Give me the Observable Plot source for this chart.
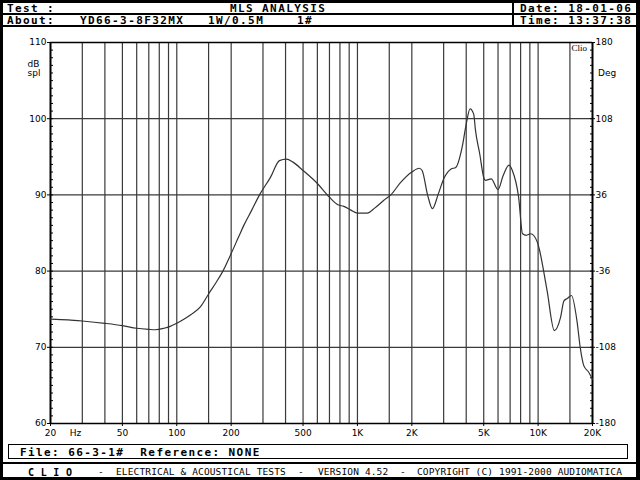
<!DOCTYPE html>
<html><head><meta charset="utf-8">
<script src="https://cdn.jsdelivr.net/npm/d3@7"></script>
<script src="https://cdn.jsdelivr.net/npm/@observablehq/plot@0.6"></script>
<style>
body{margin:0;background:#fff}
#page{position:relative;width:640px;height:480px;overflow:hidden;background:#fff}
.blk{position:absolute;background:#000}
.hd{position:absolute;font:bold 11px "DejaVu Sans Mono",monospace;letter-spacing:1.4px;color:#000;white-space:pre;line-height:11px}
.ft{position:absolute;font:9.5px "DejaVu Sans Mono",monospace;letter-spacing:0.14px;color:#000;white-space:pre;line-height:10px}
#chart{position:absolute;left:0;top:27px}
</style></head>
<body><div id="page">
<div class="blk" style="left:0;top:0;width:640px;height:3px"></div>
<div class="blk" style="left:0;top:13px;width:640px;height:2px"></div>
<div class="blk" style="left:0;top:25px;width:640px;height:2px"></div>
<div class="blk" style="left:512px;top:0;width:2px;height:27px"></div>
<div class="hd" style="left:7px;top:2.5px">Test :</div>
<div class="hd" style="left:230px;top:2.5px">MLS ANALYSIS</div>
<div class="hd" style="left:520px;top:2.5px">Date: 18-01-06</div>
<div class="hd" style="left:7px;top:14.5px">About:</div>
<div class="hd" style="left:80px;top:14.5px">YD66-3-8F32MX</div>
<div class="hd" style="left:208px;top:14.5px">1W/0.5M</div>
<div class="hd" style="left:297px;top:14.5px">1#</div>
<div class="hd" style="left:520px;top:14.5px">Time: 13:37:38</div>
<div id="chart"></div>
<div style="position:absolute;left:8px;top:444px;width:618px;height:13px;border:1px solid #000"></div>
<div class="hd" style="left:20px;top:446.5px">File: 66-3-1#  Reference: NONE</div>
<div class="blk" style="left:0;top:462px;width:640px;height:2px"></div>
<div class="hd" style="left:28px;top:466.5px;font-size:10px;letter-spacing:0.3px">C L I O</div>
<div class="ft" style="left:98px;top:467px">-</div>
<div class="ft" style="left:116px;top:467px">ELECTRICAL &amp; ACOUSTICAL TESTS</div>
<div class="ft" style="left:298px;top:467px">-</div>
<div class="ft" style="left:318px;top:467px">VERSION 4.52</div>
<div class="ft" style="left:400px;top:467px">-</div>
<div class="ft" style="left:417px;top:467px">COPYRIGHT (C) 1991-2000 AUDIOMATICA</div>
<div class="blk" style="left:0;top:477px;width:640px;height:3px"></div>
<div class="blk" style="left:0;top:0;width:3px;height:480px"></div>
<div class="blk" style="left:636px;top:0;width:4px;height:480px"></div>
</div>
<script>
const freqs = [20, 25, 30, 40, 50, 60, 70, 76, 85, 92, 100, 110, 120, 135, 150, 165, 180, 200, 220, 235, 260, 287, 330, 370, 404, 440, 500, 600, 700, 780, 840, 920, 1000, 1130, 1250, 1400, 1530, 1730, 2000, 2200, 2280, 2450, 2600, 2800, 3000, 3300, 3500, 3800, 4000, 4200, 4400, 4500, 4750, 5000, 5100, 5500, 6000, 6400, 6900, 7200, 7800, 8200, 8600, 9100, 9900, 10100, 11200, 12300, 13300, 13900, 14500, 15300, 16400, 17100, 17900, 19100, 20000];
const splDb = [73.7, 73.6, 73.45, 73.15, 72.85, 72.5, 72.35, 72.3, 72.5, 72.75, 73.15, 73.7, 74.3, 75.3, 77.0, 78.5, 80.0, 82.3, 84.5, 86.0, 88.0, 90.0, 92.3, 94.5, 94.7, 94.3, 93.2, 91.5, 89.7, 88.7, 88.5, 88.0, 87.6, 87.6, 88.3, 89.3, 90.0, 91.6, 93.0, 93.5, 93.2, 89.9, 88.2, 90.1, 92.1, 93.4, 93.6, 96.3, 99.3, 101.3, 100.6, 98.5, 95.4, 92.3, 91.9, 92.1, 90.7, 92.5, 93.9, 93.2, 89.7, 84.9, 84.7, 84.9, 83.8, 83.1, 77.5, 72.2, 73.9, 76.1, 76.4, 76.8, 73.5, 70.0, 67.6, 66.7, 65.8];
const gridFreqs = [30, 40, 50, 60, 70, 80, 90, 100, 150, 200, 300, 400, 500, 600, 700, 800, 900, 1000, 1500, 2000, 3000, 4000, 5000, 6000, 7000, 8000, 9000, 10000, 15000];
const gridDb = [70, 80, 90, 100];
const xTickFreqs = [20, 50, 100, 200, 500, 1000, 2000, 5000, 10000, 20000];
const xTickLabels = ["20", "50", "100", "200", "500", "1K", "2K", "5K", "10K", "20K"];
const yTicks = [60, 70, 80, 90, 100, 110];
const degLabels = ["-180", "-108", "-36", "36", "108", "180"];
const minorDb = d3.range(60, 111, 1);

const data = freqs.map((f, i) => ({f, db: splDb[i]}));
const lblFont = {fontFamily: "DejaVu Sans, sans-serif", fontSize: 9, fill: "#000"};

const chart = Plot.plot({
  width: 640, height: 415,
  marginLeft: 50, marginRight: 48, marginTop: 15, marginBottom: 19,
  style: {fontFamily: "DejaVu Sans, sans-serif", fontSize: "9px", background: "transparent", color: "#000"},
  x: {type: "log", domain: [20, 20000]},
  y: {domain: [60, 110]},
  marks: [
    Plot.ruleX(gridFreqs, {stroke: "#3a3a3a", strokeWidth: 1.2}),
    Plot.ruleY(gridDb, {stroke: "#3a3a3a", strokeWidth: 1.2}),
    Plot.ruleY([110, 60], {stroke: "#000", strokeWidth: 1.5}),
    Plot.ruleX([20, 20000], {stroke: "#000", strokeWidth: 2}),
    Plot.axisY(minorDb, {anchor: "left", tickSize: 3, dx: 3, tickFormat: () => "", label: null}),
    Plot.axisY(minorDb, {anchor: "right", tickSize: 3, dx: -3, tickFormat: () => "", label: null}),
    Plot.axisY(yTicks, {anchor: "left", tickSize: 3, tickPadding: 1, tickFormat: d => String(d), label: null, fontSize: 9}),
    Plot.axisY(yTicks, {anchor: "right", tickSize: 2, tickPadding: 1, tickFormat: d => degLabels[yTicks.indexOf(d)], label: null, fontSize: 9}),
    Plot.axisX(xTickFreqs, {anchor: "bottom", tickSize: 3, tickFormat: () => "", label: null}),
    Plot.text(xTickFreqs, {x: d => d, text: (d, i) => xTickLabels[i], frameAnchor: "bottom", dy: 9.5, textAnchor: "middle", lineAnchor: "middle", ...lblFont}),
    Plot.line(data, {x: "f", y: "db", curve: "monotone-x", stroke: "#333", strokeWidth: 1.2}),
    Plot.text(["Hz"], {frameAnchor: "bottom-left", dx: 25, dy: 9.5, textAnchor: "middle", lineAnchor: "middle", ...lblFont}),
    Plot.text(["dB"], {frameAnchor: "top-left", dx: -23, dy: 21.5, textAnchor: "start", lineAnchor: "middle", ...lblFont}),
    Plot.text(["spl"], {frameAnchor: "top-left", dx: -23, dy: 31, textAnchor: "start", lineAnchor: "middle", ...lblFont}),
    Plot.text(["Deg"], {frameAnchor: "top-right", dx: 5.5, dy: 31, textAnchor: "start", lineAnchor: "middle", ...lblFont}),
    Plot.text(["Clio"], {frameAnchor: "top-right", dx: -21, dy: 5.5, textAnchor: "start", lineAnchor: "middle", fontFamily: "Liberation Serif, serif", fontSize: 9, fill: "#000"})
  ]
});
document.getElementById("chart").appendChild(chart);
</script>
</body></html>
